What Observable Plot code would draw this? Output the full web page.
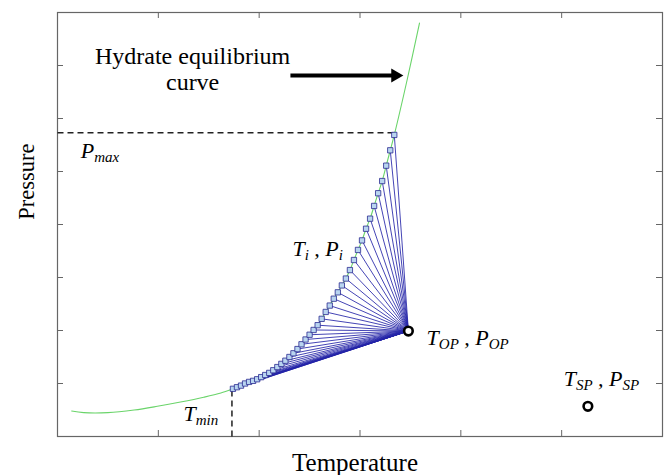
<!DOCTYPE html>
<html><head><meta charset="utf-8">
<script src="https://cdn.jsdelivr.net/npm/d3@7"></script>
<script src="https://cdn.jsdelivr.net/npm/@observablehq/plot@0.6"></script>
<style>body{margin:0;background:#fff}</style>
</head><body><div id="chart"></div>
<script>
// ---- data (arbitrary units) ----
const xTicks = [0, 1, 2, 3, 4, 5, 6];
const yTicks = [0, 1, 2, 3, 4, 5, 6, 7, 8];

// hydrate equilibrium curve below T_min
const lowCurveT = [0.14, 0.26, 0.50, 0.76, 0.99, 1.22, 1.45, 1.62];
const lowCurveP = [0.48, 0.45, 0.45, 0.50, 0.57, 0.65, 0.74, 0.82];
// intermediate points T_i, P_i (squares) on the curve
const pointT = [1.74,1.78,1.82,1.86,1.90,1.94,1.98,2.02,2.06,2.10,2.14,2.18,2.22,2.26,2.30,2.34,2.38,2.42,2.46,2.50,2.54,2.58,2.62,2.66,2.70,2.74,2.78,2.82,2.86,2.90,2.94,2.98,3.02,3.06,3.10,3.14,3.18,3.22,3.26,3.30,3.34];
const pointP = [0.90,0.93,0.96,1.00,1.03,1.05,1.08,1.12,1.16,1.20,1.25,1.31,1.37,1.43,1.50,1.57,1.65,1.74,1.83,1.92,2.01,2.10,2.22,2.35,2.47,2.60,2.72,2.85,2.98,3.14,3.33,3.52,3.70,3.92,4.11,4.35,4.59,4.82,5.11,5.40,5.69];
// curve above P_max
const highCurveT = [3.47, 3.59];
const highCurveP = [6.75, 7.80];

const opPoint = {T: 3.48, P: 1.99};
const spPoint = {T: 5.26, P: 0.57};
const pMax = 5.73;
const tMin = 1.73;

const labelTexts = ["P_{max}", "T_{i} , P_{i}", "T_{min}", "T_{OP} , P_{OP}", "T_{SP} , P_{SP}"];
const labelT = [0.23, 2.33, 1.25, 3.66, 5.02];
const labelP = [5.25, 3.40, 0.30, 1.73, 0.96];

const noteText = "Hydrate equilibrium\ncurve";
const notePos = {T: 1.34, P: 6.53};
const arrowPos = {T1: 2.31, T2: 3.35, P: 6.81};
const yLabelPos = {T: 0, P: 4.81};

// ---- derived tables ----
const points = pointT.map((T, i) => ({T, P: pointP[i]}));
const curve = [
  ...lowCurveT.map((T, i) => ({T, P: lowCurveP[i]})),
  ...points,
  ...highCurveT.map((T, i) => ({T, P: highCurveP[i]}))
];
const labels = labelTexts.map((text, i) => ({text, T: labelT[i], P: labelP[i]}));

const W = 664, H = 475, mL = 57, mR = 2, mT = 12, mB = 39;
const fw = W - mL - mR, fh = H - mT - mB;
const serif = "Liberation Serif, Times New Roman, serif";

const plot = Plot.plot({
  width: W, height: H,
  marginLeft: mL, marginRight: mR, marginTop: mT, marginBottom: mB,
  style: {fontFamily: serif, background: "white", overflow: "visible"},
  x: {domain: [0, 6], axis: null},
  y: {domain: [0, 8], axis: null},
  marks: [
    // inward ticks on all four sides
    Plot.tickX(xTicks.slice(1, -1), {x: d => d, insetTop: fh - 6, stroke: "#666"}),
    Plot.tickX(xTicks.slice(1, -1), {x: d => d, insetBottom: fh - 6, stroke: "#666"}),
    Plot.tickY(yTicks.slice(1, -1), {y: d => d, insetRight: fw - 6, stroke: "#666"}),
    Plot.tickY(yTicks.slice(1, -1), {y: d => d, insetLeft: fw - 6, stroke: "#666"}),
    Plot.frame({stroke: "#666", strokeWidth: 1.2}),
    // dashed guides
    Plot.link([{T1: 0, T2: pointT[pointT.length - 1], P: pMax}], {x1: "T1", x2: "T2", y1: "P", y2: "P", stroke: "#222", strokeWidth: 1.5, strokeDasharray: "6,4"}),
    Plot.link([{T: tMin, P1: 0, P2: pointP[0]}], {x1: "T", x2: "T", y1: "P1", y2: "P2", stroke: "#222", strokeWidth: 1.5, strokeDasharray: "6,4"}),
    // equilibrium curve
    Plot.line(curve, {x: "T", y: "P", stroke: "#6ad46a", strokeWidth: 1.1, curve: "catmull-rom"}),
    // fan lines to operating point
    Plot.link(points, {x1: "T", y1: "P", x2: () => opPoint.T, y2: () => opPoint.P, stroke: "#2424a8", strokeWidth: 0.85}),
    Plot.dot(points, {x: "T", y: "P", symbol: "square", r: 3, fill: "#b9d5f0", stroke: "#2a2a90", strokeWidth: 0.8}),
    Plot.dot([opPoint, spPoint], {x: "T", y: "P", r: 4.3, fill: "white", stroke: "black", strokeWidth: 2.6}),
    // annotation arrow
    Plot.link([arrowPos], {x1: "T1", x2: "T2", y1: "P", y2: "P", stroke: "black", strokeWidth: 4}),
    Plot.dot([arrowPos], {x: "T2", y: "P", symbol: "triangle", r: 5.2, rotate: 90, fill: "black", stroke: "none"}),
    Plot.text([notePos], {x: "T", y: "P", text: () => noteText, fontFamily: serif, fontSize: 24, lineAnchor: "bottom", lineHeight: 1.12, textAnchor: "middle", fill: "black"}),
    // point labels
    Plot.text(labels, {x: "T", y: "P", text: "text", fontFamily: serif, fontSize: 22, fontStyle: "italic", textAnchor: "start", lineAnchor: "bottom", fill: "black", className: "sub-label"}),
    // axis labels
    Plot.text(["Temperature"], {frameAnchor: "bottom", text: d => d, dx: -5, dy: 34, lineAnchor: "bottom", fontFamily: serif, fontSize: 25, fill: "black"}),
    Plot.text([yLabelPos], {x: "T", y: "P", text: () => "Pressure", dx: -24, rotate: -90, lineAnchor: "bottom", fontFamily: serif, fontSize: 22.5, fill: "black"})
  ]
});

// render subscripts as tspans
d3.select(plot).selectAll("g.sub-label text").each(function () {
  const s = this.textContent;
  const parts = s.split(/(_\{[^}]*\})/).filter(p => p);
  this.textContent = "";
  const sel = d3.select(this).style("white-space", "pre");
  let shifted = false;
  for (const p of parts) {
    const m = p.match(/^_\{(.*)\}$/);
    const t = sel.append("tspan");
    if (m) { t.text(m[1]).attr("font-size", 15).attr("dy", 4); shifted = true; }
    else { t.text(p); if (shifted) { t.attr("dy", -4); shifted = false; } }
  }
});

document.getElementById("chart").appendChild(plot);
</script>
</body></html>
